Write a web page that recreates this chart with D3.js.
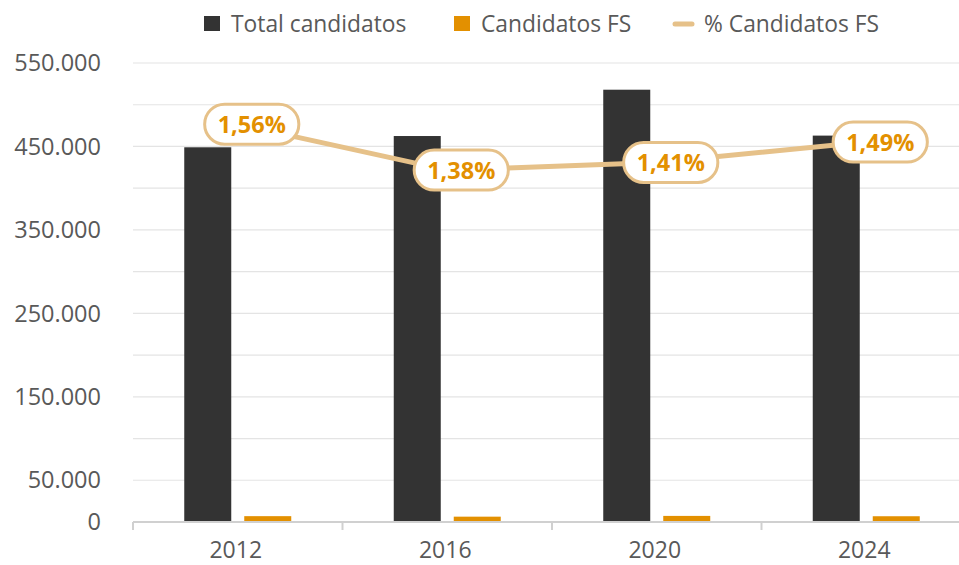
<!DOCTYPE html>
<html>
<head>
<meta charset="utf-8">
<script src="https://cdn.jsdelivr.net/npm/d3@7"></script>
<style>
  body { margin: 0; background: #fff; }
  text { font-family: "Open Sans", sans-serif; }
</style>
</head>
<body>
<div id="chart"></div>
<script>
// Data
const years = ['2012', '2016', '2020', '2024'];
const totalCandidatos = [449000, 462500, 518000, 463000];
const candidatosFS = [7000, 6400, 7300, 6900];
const pctFS = [1.56, 1.38, 1.41, 1.49];
const yTickValues = [0, 50000, 150000, 250000, 350000, 450000, 550000];
const legendLabels = ['Total candidatos', 'Candidatos FS', '% Candidatos FS'];

const W = 959, H = 565;
const margin = { top: 63, right: -12, bottom: 43, left: 133 };
const width = W - margin.left - margin.right;
const height = H - margin.top - margin.bottom;

const colBlack = '#333333';
const colOrange = '#E39000';
const colLine = '#E6C189';
const colText = '#595959';

const svg = d3.select('#chart')
    .append('svg')
    .attr('width', W)
    .attr('height', H);

const g = svg.append('g')
    .attr('transform', `translate(${margin.left}, ${margin.top})`);

// Scales
const xScale = d3.scaleBand()
    .domain(years)
    .range([0, width]);
const yScale = d3.scaleLinear()
    .domain([0, 550000])
    .range([height, 0]);
const y2Scale = d3.scaleLinear()
    .domain([0, 1.8])
    .range([height, 0]);

// Gridlines every 50.000
g.selectAll('.grid')
    .data(d3.range(50000, 550001, 50000))
    .enter().append('line')
    .attr('x1', 0)
    .attr('x2', width)
    .attr('y1', d => yScale(d))
    .attr('y2', d => yScale(d))
    .attr('stroke', '#e4e4e4')
    .attr('stroke-width', 1.2);

// Y axis labels
const fmt = d3.formatLocale({ decimal: ',', thousands: '.', grouping: [3], currency: ['', ''] }).format(',');
g.selectAll('.y-label')
    .data(yTickValues)
    .enter().append('text')
    .attr('x', -32)
    .attr('y', d => yScale(d))
    .attr('dy', '0.35em')
    .attr('text-anchor', 'end')
    .attr('font-size', 23.5)
    .attr('fill', colText)
    .text(d => fmt(d));

// Bars
const barW = 47, gap = 13;
const groups = g.selectAll('.grp')
    .data(years)
    .enter().append('g')
    .attr('transform', d => `translate(${xScale(d) + xScale.bandwidth() / 2}, 0)`);

groups.append('rect')
    .attr('x', -barW - gap / 2)
    .attr('y', (d, i) => yScale(totalCandidatos[i]))
    .attr('width', barW)
    .attr('height', (d, i) => height - yScale(totalCandidatos[i]))
    .attr('fill', colBlack);

groups.append('rect')
    .attr('x', gap / 2)
    .attr('y', (d, i) => yScale(candidatosFS[i]))
    .attr('width', barW)
    .attr('height', (d, i) => height - yScale(candidatosFS[i]))
    .attr('fill', colOrange);

// X axis: baseline plus category-boundary ticks
const xAxis = g.append('g')
    .attr('transform', `translate(0, ${height})`);
xAxis.append('line')
    .attr('x1', 0).attr('x2', width)
    .attr('stroke', '#d0d0d0')
    .attr('stroke-width', 2);
xAxis.selectAll('.tick-mark')
    .data(years.concat(['end']))
    .enter().append('line')
    .attr('x1', (d, i) => i * xScale.bandwidth())
    .attr('x2', (d, i) => i * xScale.bandwidth())
    .attr('y1', 0)
    .attr('y2', 8)
    .attr('stroke', '#d0d0d0')
    .attr('stroke-width', 2);
xAxis.selectAll('.x-label')
    .data(years)
    .enter().append('text')
    .attr('x', d => xScale(d) + xScale.bandwidth() / 2 - 2)
    .attr('y', 36)
    .attr('text-anchor', 'middle')
    .attr('font-size', 23)
    .attr('fill', colText)
    .text(d => d);

// % line
const linePts = years.map((d, i) => [xScale(d) + xScale.bandwidth() / 2, y2Scale(pctFS[i])]);
g.append('path')
    .datum(linePts)
    .attr('d', d3.line())
    .attr('fill', 'none')
    .attr('stroke', colLine)
    .attr('stroke-width', 5)
    .attr('stroke-linejoin', 'round');

// Data labels
const labels = g.selectAll('.dlabel')
    .data(years)
    .enter().append('g')
    .attr('transform', (d, i) => `translate(${linePts[i][0] + 14}, ${linePts[i][1]})`);
labels.append('rect')
    .attr('class', 'pill')
    .attr('fill', '#fff')
    .attr('stroke', colLine)
    .attr('stroke-width', 3);
labels.append('text')
    .attr('text-anchor', 'middle')
    .attr('dy', '0.36em')
    .attr('font-size', 23.5)
    .attr('font-weight', 'bold')
    .attr('fill', colOrange)
    .text((d, i) => pctFS[i].toFixed(2).replace('.', ',') + '%');
labels.each(function() {
    const tw = d3.select(this).select('text').node().getComputedTextLength();
    const bw = tw + 26, bh = 40;
    d3.select(this).select('rect')
        .attr('x', -bw / 2).attr('y', -bh / 2)
        .attr('width', bw).attr('height', bh)
        .attr('rx', bh / 2).attr('ry', bh / 2);
});

// Legend
const legend = svg.append('g').attr('transform', 'translate(0, 24)');
const legendX = [204, 454, 674];
legendLabels.forEach((lab, i) => {
    const item = legend.append('g').attr('transform', `translate(${legendX[i]}, 0)`);
    if (i < 2) {
        item.append('rect')
            .attr('x', 0).attr('y', -8)
            .attr('width', 16).attr('height', 15)
            .attr('fill', i === 0 ? colBlack : colOrange);
    } else {
        item.append('line')
            .attr('x1', 1).attr('x2', 18)
            .attr('stroke', colLine)
            .attr('stroke-width', 5)
            .attr('stroke-linecap', 'round');
    }
    item.append('text')
        .attr('x', i < 2 ? 27 : 30)
        .attr('dy', '0.35em')
        .attr('font-size', 22.8)
        .attr('fill', colText)
        .text(lab);
});
</script>
</body>
</html>
